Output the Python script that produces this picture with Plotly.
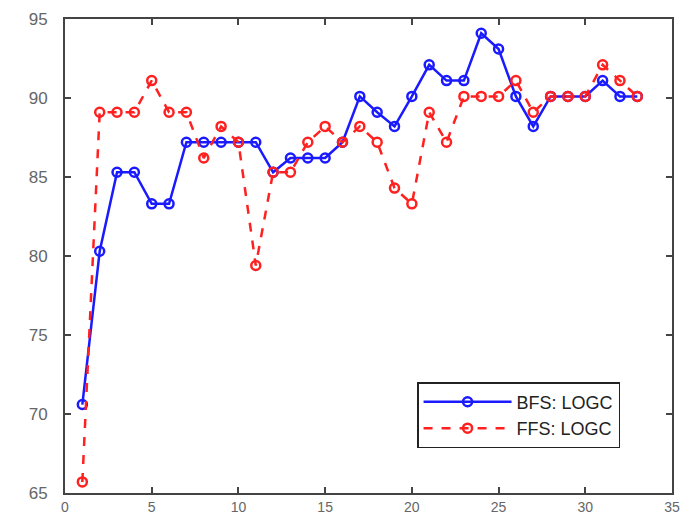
import plotly.graph_objects as go

x_vals = list(range(1, 34))
bfs_logc = [70.6, 80.3, 85.3, 85.3, 83.3, 83.3, 87.2, 87.2, 87.2, 87.2, 87.2,
            85.3, 86.2, 86.2, 86.2, 87.2, 90.1, 89.1, 88.2, 90.1, 92.1, 91.1,
            91.1, 94.1, 93.1, 90.1, 88.2, 90.1, 90.1, 90.1, 91.1, 90.1, 90.1]
ffs_logc = [65.7, 89.1, 89.1, 89.1, 91.1, 89.1, 89.1, 86.2, 88.2, 87.2, 79.4,
            85.3, 85.3, 87.2, 88.2, 87.2, 88.2, 87.2, 84.3, 83.3, 89.1, 87.2,
            90.1, 90.1, 90.1, 91.1, 89.1, 90.1, 90.1, 90.1, 92.1, 91.1, 90.1]
series_names = ["BFS: LOGC", "FFS: LOGC"]
x_ticks = [0, 5, 10, 15, 20, 25, 30, 35]
y_ticks = [65, 70, 75, 80, 85, 90, 95]

fig = go.Figure()
fig.add_trace(go.Scatter(
    x=x_vals, y=bfs_logc, name=series_names[0], mode="lines+markers",
    line=dict(color="#1a1aff", width=2.5),
    marker=dict(symbol="circle-open", size=9, color="#1a1aff", line=dict(width=2.5)),
))
fig.add_trace(go.Scatter(
    x=x_vals, y=ffs_logc, name=series_names[1], mode="lines+markers",
    line=dict(color="#ff2020", width=2.5, dash="dash"),
    marker=dict(symbol="circle-open", size=9, color="#ff2020", line=dict(width=2.5)),
))

axis_common = dict(
    showgrid=False, zeroline=False, showline=True, linecolor="#444444", linewidth=2,
    mirror="ticks", ticks="inside", ticklen=6, tickcolor="#444444", tickwidth=1.5,
    automargin=False,
)
fig.update_xaxes(range=[0, 35], tickvals=x_ticks, ticklabelstandoff=0,
                 tickfont=dict(family="Liberation Sans, Arial", size=14, color="#666666"),
                 **axis_common)
fig.update_yaxes(range=[65, 95], tickvals=y_ticks, ticklabelstandoff=12,
                 tickfont=dict(family="Liberation Sans, Arial", size=17, color="#666666"),
                 **axis_common)

fig.update_layout(
    width=686, height=516,
    margin=dict(l=65, r=14, t=19, b=23),
    plot_bgcolor="white", paper_bgcolor="white",
    legend=dict(
        x=0.58, y=0.234, xanchor="left", yanchor="top",
        bordercolor="#222222", borderwidth=1.5, bgcolor="white",
        font=dict(family="Liberation Sans, Arial", size=18, color="#222222"),
        itemwidth=88, tracegroupgap=0,
    ),
)

fig.write_html(
    "out.html",
    config={"displayModeBar": False},
    post_script="document.body.style.margin='0';document.body.style.overflow='hidden';",
)
